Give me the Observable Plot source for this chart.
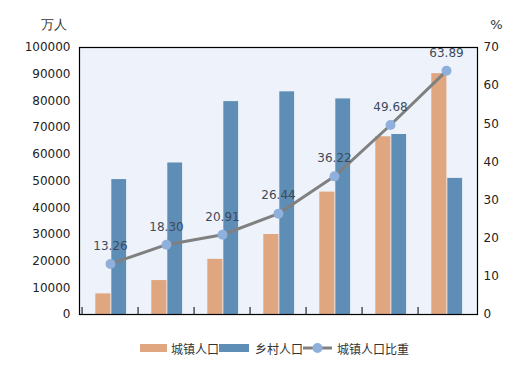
<!DOCTYPE html>
<html>
<head>
<meta charset="utf-8">
<script src="https://cdn.jsdelivr.net/npm/d3@7"></script>
<script src="https://cdn.jsdelivr.net/npm/@observablehq/plot@0.6"></script>
<style>
  body { margin: 0; background: #fff; font-family: "DejaVu Sans", sans-serif; }
  #chart svg { display: block; }
  .legend { position: relative; height: 30px; font-family: "Noto Sans CJK SC", sans-serif; font-size: 12px; color: #333; }
  .legend .item { position: absolute; top: 10px; display: flex; align-items: center; height: 16px; }
  .sw { display: inline-block; height: 8px; }
</style>
</head>
<body>
<div id="chart"></div>
<div class="legend" id="legend"></div>
<script>
const years = ["1953", "1964", "1982", "1990", "2000", "2010", "2020"];
const urban = [7726, 12710, 20659, 29971, 45844, 66557, 90199];
const rural = [50534, 56748, 79736, 83397, 80739, 67415, 50979];
const ratio = [13.26, 18.30, 20.91, 26.44, 36.22, 49.68, 63.89];
const leftTicks = [0, 10000, 20000, 30000, 40000, 50000, 60000, 70000, 80000, 90000, 100000];
const rightTicks = [0, 10, 20, 30, 40, 50, 60, 70];
const leftUnit = "万人";
const rightUnit = "%";

const W = 527, H = 330, mL = 79, mR = 50, mT = 47, mB = 16;
const k = 100000 / 70; // percent -> left scale
const bw = (W - mL - mR) / years.length;

const urbanData = years.map((y, i) => ({year: y, value: urban[i]}));
const ruralData = years.map((y, i) => ({year: y, value: rural[i]}));
const ratioData = years.map((y, i) => ({year: y, pct: ratio[i], v: ratio[i] * k}));

const cUrban = "#dfa67f", cRural = "#5e8db6", cLine = "#808080", cDot = "#8fb0db";

const plot = Plot.plot({
  width: W, height: H,
  marginLeft: mL, marginRight: mR, marginTop: mT, marginBottom: mB,
  style: {fontFamily: "DejaVu Sans, sans-serif", fontSize: "12px", color: "#222", background: "transparent"},
  x: {type: "band", domain: years, padding: 0},
  y: {domain: [0, 100000]},
  marks: [
    Plot.frame({fill: "#eef3fb", stroke: null}),
    Plot.barY(urbanData, {x: "year", y: "value", fill: cUrban, insetLeft: 13.3, insetRight: 27.6}),
    Plot.barY(ruralData, {x: "year", y: "value", fill: cRural, insetLeft: 29.3, insetRight: 11.9}),
    Plot.line(ratioData, {x: "year", y: "v", stroke: cLine, strokeWidth: 3}),
    Plot.dot(ratioData, {x: "year", y: "v", r: 5, fill: cDot, stroke: null}),
    Plot.text(ratioData, {x: "year", y: "v", text: d => d.pct.toFixed(2), dy: -18, fill: "#404a5a", fontSize: 12}),
    Plot.frame({stroke: "#000", strokeWidth: 1.2}),
    Plot.axisY(leftTicks, {anchor: "left", tickSize: 0, tickPadding: 9, tickFormat: d => String(d), label: null, fontSize: 12}),
    Plot.axisY(rightTicks.map(v => v * k), {anchor: "right", tickSize: 0, tickPadding: 6, tickFormat: d => String(Math.round(d / k)), label: null, fontSize: 12}),
    Plot.axisX({anchor: "bottom", tickSize: -7, tickFormat: () => "", dx: -bw / 2, label: null, stroke: "#000"}),
    Plot.text([leftUnit], {frameAnchor: "top-left", text: d => d, textAnchor: "start", lineAnchor: "middle", dx: -39, dy: -23, fontSize: 13, fill: "#333"}),
    Plot.text([rightUnit], {frameAnchor: "top-right", text: d => d, textAnchor: "end", lineAnchor: "middle", dx: 25, dy: -23, fontSize: 13, fill: "#333"})
  ]
});
document.getElementById("chart").appendChild(plot);

const legendItems = [
  {name: "城镇人口", kind: "bar", color: cUrban, x: 140, sw: 27, gap: 4},
  {name: "乡村人口", kind: "bar", color: cRural, x: 219, sw: 30, gap: 6},
  {name: "城镇人口比重", kind: "line", color: cLine, x: 303, sw: 29, gap: 5}
];
const legend = document.getElementById("legend");
legendItems.forEach(it => {
  const d = document.createElement("div");
  d.className = "item";
  d.style.left = it.x + "px";
  let sw;
  if (it.kind === "bar") {
    sw = `<span class="sw" style="width:${it.sw}px;background:${it.color}"></span>`;
  } else {
    sw = `<svg width="${it.sw}" height="12" style="display:block"><line x1="0" x2="${it.sw}" y1="6" y2="6" stroke="${cLine}" stroke-width="3"/><circle cx="${it.sw/2}" cy="6" r="5" fill="${cDot}"/></svg>`;
  }
  d.innerHTML = sw + `<span style="margin-left:${it.gap}px">${it.name}</span>`;
  legend.appendChild(d);
});
</script>
</body>
</html>
